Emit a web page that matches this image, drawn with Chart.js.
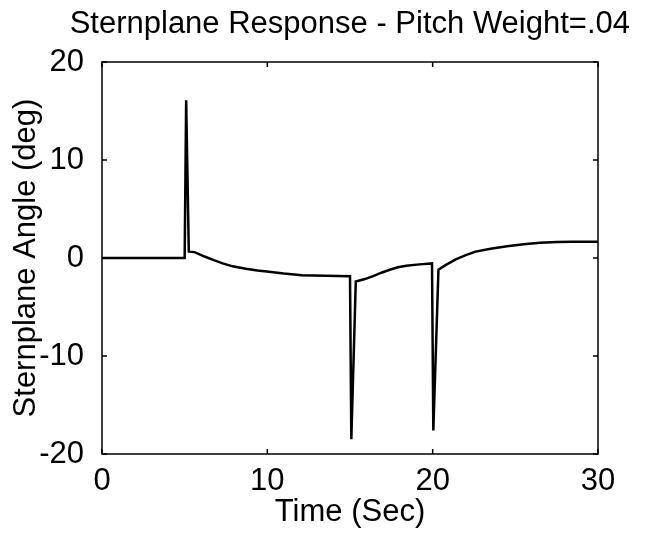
<!DOCTYPE html>
<html>
<head>
<meta charset="utf-8">
<script src="https://cdn.jsdelivr.net/npm/chart.js@4"></script>
<style>
  html, body { margin: 0; padding: 0; background: #fff; }
</style>
</head>
<body>
<canvas id="sternplane_chart" width="658" height="534"></canvas>
<script>
// values
var timeSec = [0, 5.0, 5.09, 5.25, 5.6, 6.2, 6.8, 7.3, 7.9, 8.7, 9.4, 10.1, 11.0, 12.1, 13.5, 15.0,
  15.08, 15.35, 15.9, 16.4, 16.9, 17.4, 17.9, 18.4, 19.2, 19.96,
  20.04, 20.35, 20.8, 21.4, 22.0, 22.6, 23.5, 24.5, 25.5, 26.5, 27.5, 28.5, 30];
var angleDeg = [0, 0, 16.1, 0.65, 0.6, 0.15, -0.25, -0.55, -0.85, -1.1, -1.28, -1.4, -1.58, -1.75, -1.82, -1.85,
  -18.5, -2.4, -2.15, -1.85, -1.5, -1.2, -0.95, -0.8, -0.65, -0.55,
  -17.6, -1.2, -0.7, -0.15, 0.3, 0.65, 0.95, 1.2, 1.4, 1.55, 1.62, 1.65, 1.65];
var xTicks = [0, 10, 20, 30];
var yTicks = [-20, -10, 0, 10, 20];

var points = timeSec.map(function(t, i) { return { x: t, y: angleDeg[i] }; });
var fontFam = '"Liberation Sans", Arial, Helvetica, sans-serif';

// box around the plot plus small inward tick marks (matlab style)
var frameTicks = {
  id: 'frameTicks',
  afterDraw: function(chart) {
    var ctx = chart.ctx;
    var a = chart.chartArea;
    var xs = chart.scales.x, ys = chart.scales.y;
    ctx.save();
    ctx.strokeStyle = '#000';
    ctx.lineWidth = 1.5;
    ctx.strokeRect(a.left, a.top, a.right - a.left, a.bottom - a.top);
    ctx.beginPath();
    xTicks.forEach(function(v) {
      var px = xs.getPixelForValue(v);
      ctx.moveTo(px, a.bottom); ctx.lineTo(px, a.bottom - 5);
      ctx.moveTo(px, a.top); ctx.lineTo(px, a.top + 5);
    });
    yTicks.forEach(function(v) {
      var py = ys.getPixelForValue(v);
      ctx.moveTo(a.left, py); ctx.lineTo(a.left + 5, py);
      ctx.moveTo(a.right, py); ctx.lineTo(a.right - 5, py);
    });
    ctx.stroke();
    ctx.restore();
  }
};

var ctx = document.getElementById('sternplane_chart').getContext('2d');
var chart = new Chart(ctx, {
  type: 'scatter',
  data: {
    datasets: [{
      data: points,
      showLine: true,
      borderColor: '#000',
      borderWidth: 2.5,
      pointRadius: 0,
      tension: 0
    }]
  },
  options: {
    responsive: false,
    animation: false,
    devicePixelRatio: 1,
    layout: { padding: { left: 0, right: 28, top: 0, bottom: 0 } },
    plugins: {
      legend: { display: false },
      tooltip: { enabled: false },
      title: {
        display: true,
        text: 'Sternplane Response - Pitch Weight=.04',
        color: '#000',
        align: 'end',
        font: { family: fontFam, size: 31, weight: 'normal' },
        padding: { top: 6.2, bottom: 18.6 }
      }
    },
    scales: {
      x: {
        type: 'linear',
        min: 0, max: 30,
        afterBuildTicks: function(axis) { axis.ticks = xTicks.map(function(v) { return { value: v }; }); },
        afterFit: function(axis) { axis.height = 80; },
        grid: { display: false },
        border: { display: false },
        ticks: { color: '#000', padding: 1, maxRotation: 0, font: { family: fontFam, size: 31 } },
        title: {
          display: true, text: 'Time (Sec)', color: '#000',
          font: { family: fontFam, size: 31 }, padding: { top: 0, bottom: 2.6 }
        }
      },
      y: {
        type: 'linear',
        min: -20, max: 20,
        afterBuildTicks: function(axis) { axis.ticks = yTicks.map(function(v) { return { value: v }; }); },
        afterFit: function(axis) { axis.width = 102; },
        grid: { display: false },
        border: { display: false },
        ticks: { color: '#000', padding: 10, font: { family: fontFam, size: 31 } },
        title: {
          display: true, text: 'Sternplane Angle (deg)', color: '#000',
          font: { family: fontFam, size: 31 }, padding: { top: 8.2, bottom: 0 }
        }
      },
      y2: {
        type: 'linear',
        position: 'right',
        min: -20, max: 20,
        afterFit: function(axis) { axis.width = 32; },
        grid: { display: false },
        border: { display: false },
        ticks: { display: false }
      }
    }
  },
  plugins: [frameTicks]
});
</script>
</body>
</html>
